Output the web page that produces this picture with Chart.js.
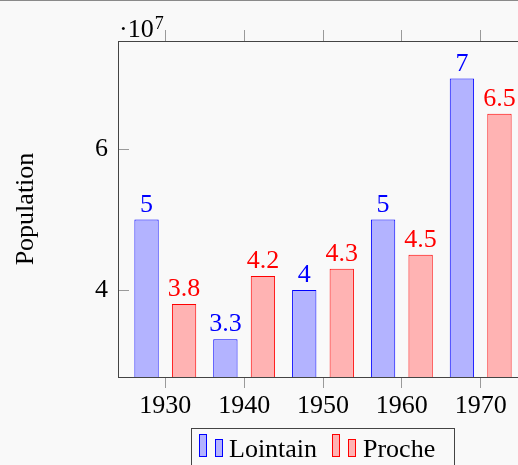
<!DOCTYPE html>
<html lang="fr">
<head>
    <meta charset="UTF-8">
    <title>Population</title>
    <style>
        * { box-sizing: border-box; margin: 0; padding: 0; }
        body {
            background-color: #f9f9f9;
            overflow: hidden;
            width: 518px;
            height: 465px;
            position: relative;
        }
        .topline {
            position: absolute;
            left: 0; top: 0;
            width: 518px; height: 1px;
            background: #8a8a8a;
        }
        canvas { display: block; }
    </style>
    <script src="https://cdn.jsdelivr.net/npm/chart.js"></script>
</head>
<body>
    <div class="topline"></div>
    <canvas id="chart" width="560" height="465"></canvas>

    <script>
        // data (population values, shown scaled by 10^7)
        const years = [1930, 1940, 1950, 1960, 1970];
        const lointain = [5.0e7, 3.3e7, 4.0e7, 5.0e7, 7.0e7];
        const proche = [3.8e7, 4.2e7, 4.3e7, 4.5e7, 6.5e7];
        const yTicks = [4e7, 6e7];
        const scaleExp = 7;

        const SERIF = '"Liberation Serif", "DejaVu Serif", serif';
        const FONT = { family: SERIF, size: 26 };

        // numbers above the bars
        const barLabels = {
            id: 'barLabels',
            afterDatasetsDraw(chart) {
                const ctx = chart.ctx;
                ctx.save();
                ctx.font = '26px ' + SERIF;
                ctx.textAlign = 'center';
                ctx.textBaseline = 'alphabetic';
                chart.data.datasets.forEach((ds, i) => {
                    const meta = chart.getDatasetMeta(i);
                    ctx.fillStyle = ds.borderColor;
                    meta.data.forEach((bar, j) => {
                        const txt = String(+(ds.data[j].y / Math.pow(10, scaleExp)).toFixed(2));
                        ctx.fillText(txt, bar.x, bar.y - 8);
                    });
                });
                ctx.restore();
            }
        };

        // "·10^7" and the legend box
        const extras = {
            id: 'extras',
            afterDraw(chart) {
                const ctx = chart.ctx;
                const a = chart.chartArea;
                ctx.save();
                ctx.fillStyle = '#000';
                ctx.textBaseline = 'alphabetic';
                ctx.font = '26px ' + SERIF;
                const base = '\u00b710';
                ctx.fillText(base, a.left + 1, a.top - 4);
                const w = ctx.measureText(base).width;
                ctx.font = '18px ' + SERIF;
                ctx.fillText(String(scaleExp), a.left + 2 + w, a.top - 12);

                // legend
                ctx.strokeStyle = '#444';
                ctx.lineWidth = 1;
                ctx.strokeRect(191.5, 428.5, 263, 50);
                const entries = [{ x: 199, tx: 229 }, { x: 332, tx: 363 }];
                chart.data.datasets.forEach((ds, i) => {
                    const e = entries[i];
                    ctx.fillStyle = ds.backgroundColor;
                    ctx.strokeStyle = ds.borderColor;
                    ctx.fillRect(e.x, 434, 8, 23);
                    ctx.strokeRect(e.x + 0.5, 434.5, 7, 22);
                    ctx.fillRect(e.x + 16, 439, 8, 18);
                    ctx.strokeRect(e.x + 16.5, 439.5, 7, 17);
                    ctx.fillStyle = '#000';
                    ctx.font = '26px ' + SERIF;
                    ctx.fillText(ds.label, e.tx, 457);
                });
                ctx.restore();
            }
        };

        const xCommon = () => ({
            type: 'linear',
            min: 1924,
            max: 1976,
            offset: false,
            afterBuildTicks: s => { s.ticks = years.map(v => ({ value: v })); },
            grid: { offset: false, drawOnChartArea: false, drawTicks: true, tickLength: 11, color: '#9a9a9a' },
            border: { color: '#444', width: 1 }
        });

        new Chart(document.getElementById('chart'), {
            type: 'bar',
            data: {
                datasets: [{
                    label: 'Lointain',
                    data: years.map((y, i) => ({ x: y, y: lointain[i] })),
                    backgroundColor: '#b3b3ff',
                    borderColor: '#0000ff',
                    borderWidth: 1,
                    categoryPercentage: 0.952,
                    barPercentage: 0.648
                }, {
                    label: 'Proche',
                    data: years.map((y, i) => ({ x: y, y: proche[i] })),
                    backgroundColor: '#ffb3b3',
                    borderColor: '#ff0000',
                    borderWidth: 1,
                    categoryPercentage: 0.952,
                    barPercentage: 0.648
                }]
            },
            options: {
                responsive: false,
                animation: false,
                layout: { padding: { left: 0, top: 0, bottom: 0, right: 32 } },
                plugins: { legend: { display: false }, tooltip: { enabled: false } },
                scales: {
                    x: Object.assign(xCommon(), {
                        position: 'bottom',
                        ticks: { font: FONT, color: '#000', padding: 3, callback: v => String(v) },
                        afterFit: s => { s.height = 88; }
                    }),
                    x2: Object.assign(xCommon(), {
                        position: 'top',
                        ticks: { display: false },
                        afterFit: s => { s.height = 41; }
                    }),
                    y: {
                        position: 'left',
                        min: 2.766e7,
                        max: 7.532e7,
                        afterBuildTicks: s => { s.ticks = yTicks.map(v => ({ value: v })); },
                        ticks: {
                            font: FONT, color: '#000', padding: 21,
                            callback: v => String(v / Math.pow(10, scaleExp))
                        },
                        grid: { drawOnChartArea: false, drawTicks: true, tickLength: -11, color: '#9a9a9a' },
                        border: { color: '#444', width: 1 },
                        title: {
                            display: true, text: 'Population', color: '#000',
                            font: FONT, padding: { top: 11, bottom: 0 }
                        },
                        afterFit: s => { s.width = 118; }
                    }
                }
            },
            plugins: [barLabels, extras]
        });
    </script>
</body>
</html>
